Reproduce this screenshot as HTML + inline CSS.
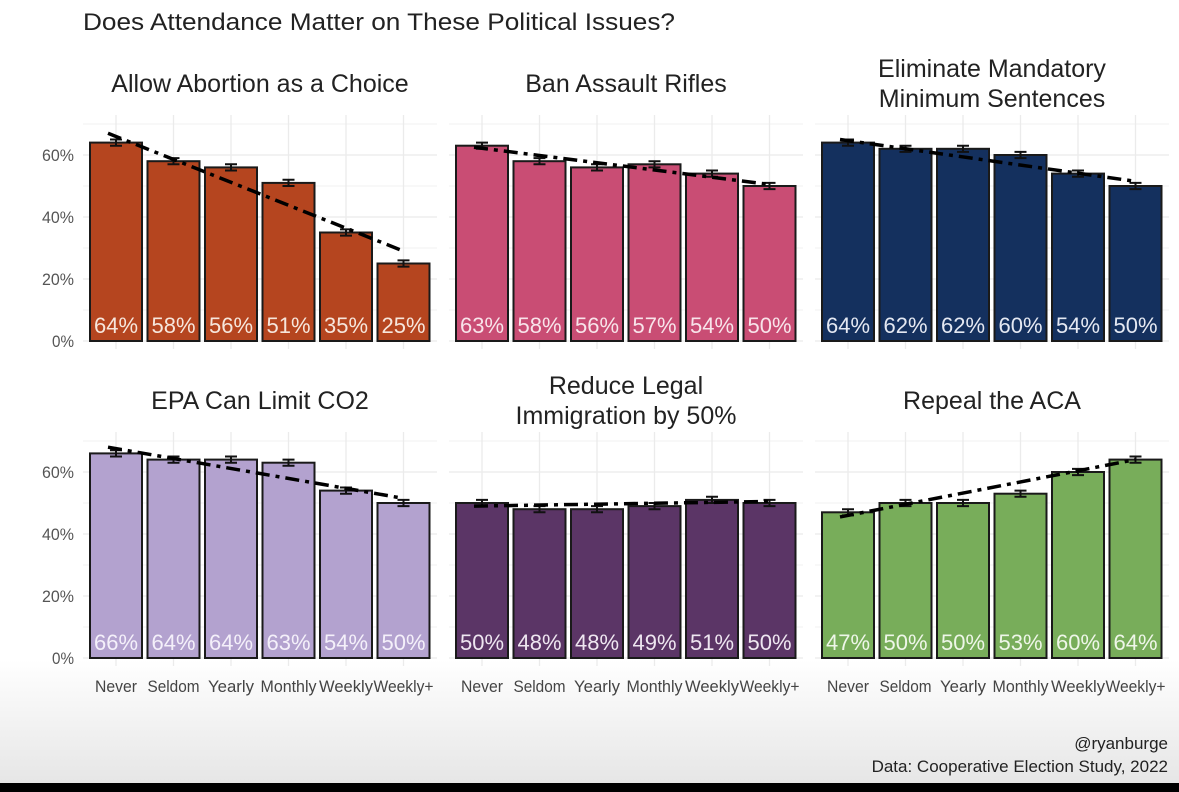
<!DOCTYPE html>
<html><head><meta charset="utf-8"><style>
html,body{margin:0;padding:0;}
body{width:1179px;height:792px;overflow:hidden;background:linear-gradient(#fff 0px,#fff 660px,#e6e6e6 783px);}
svg{display:block;font-family:"Liberation Sans Narrow","Liberation Sans",sans-serif;}
</style></head><body>
<svg id="chart" width="1179" height="792">
<rect x="0" y="783" width="1179" height="9" fill="#000"/>
<text x="83" y="30" font-size="24" fill="#222" textLength="592" lengthAdjust="spacingAndGlyphs">Does Attendance Matter on These Political Issues?</text>
<text x="1168" y="749" font-size="17" fill="#222" text-anchor="end">@ryanburge</text>
<text x="1168" y="772" font-size="17" fill="#222" text-anchor="end">Data: Cooperative Election Study, 2022</text>
</svg>
<script>
const categories=["Never","Seldom","Yearly","Monthly","Weekly","Weekly+"];
const titles=[["Allow Abortion as a Choice"],["Ban Assault Rifles"],["Eliminate Mandatory","Minimum Sentences"],["EPA Can Limit CO2"],["Reduce Legal","Immigration by 50%"],["Repeal the ACA"]];
const abortion=[64,58,56,51,35,25];
const rifles=[63,58,56,57,54,50];
const sentences=[64,62,62,60,54,50];
const epa=[66,64,64,63,54,50];
const immigration=[50,48,48,49,51,50];
const aca=[47,50,50,53,60,64];
const trendStart=[67,62.5,65,68,49,45.5];
const trendEnd=[29,50.5,51.5,51.5,50.5,64];
const yTicks=[0,20,40,60];
const colors=["#b5451f","#c94d74","#14305e","#b3a2cf","#5b3566","#78ad5a"];
const labelColors=["#f6e6dc","#f8e4ea","#e4e8f2","#f4f0fa","#eee6f0","#eef6e8"];
const series=[abortion,rifles,sentences,epa,immigration,aca];
const catWidths={"Never":42,"Seldom":52,"Yearly":46,"Monthly":56,"Weekly":54,"Weekly+":60};
const NS="http://www.w3.org/2000/svg";
const svg=document.getElementById('chart');
function mk(tag,attrs,parent){const e=document.createElementNS(NS,tag);for(const k in attrs)e.setAttribute(k,attrs[k]);(parent||svg).appendChild(e);return e;}
const pxPer=62/20;
for(let p=0;p<6;p++){
  const col=p%3,row=Math.floor(p/3);
  const ox=col*366, y0=row?658:341, top=y0-226;
  const xPos=i=>116+ox+i*57.5;
  const yPos=v=>y0-v*pxPer;
  const g=mk('g',{});
  
  
  for(let v=0;v<=70;v+=10){
    const l=mk('line',{x1:83+ox,x2:437+ox,y1:yPos(v),y2:yPos(v),stroke:'#ebebeb','stroke-width':v%20==0?1.3:0.8},g);
    
    
  }
  categories.forEach((c,i)=>{
    const l=mk('line',{x1:xPos(i),x2:xPos(i),y1:top,y2:y0+8,stroke:'#ebebeb','stroke-width':1.3},g);
    
    
  });
  const tl=titles[p];
  tl.forEach((t,j)=>{
    const cy=row?400:83;
    const y=cy+9+(j-(tl.length-1)/2)*30;
    const tx=mk('text',{x:260+ox,y:y,'font-size':25,fill:'#222','text-anchor':'middle'},g);
    tx.textContent=t;
    
    
  });
  if(col===0){
    yTicks.forEach(v=>{
      const t=mk('text',{x:74,y:yPos(v)+6,'font-size':17,fill:'#555','text-anchor':'end',textLength:(v===0?22:32),lengthAdjust:'spacingAndGlyphs'},g);
      t.textContent=v+'%';
      
      
    });
  }
  series[p].forEach((v,i)=>{
    const b=mk('rect',{x:xPos(i)-26,y:yPos(v),width:52,height:v*pxPer,fill:colors[p],stroke:'#1a1a1a','stroke-width':2},g);
    
    
    const e=mk('path',{d:`M${xPos(i)-6},${yPos(v+1)}h12M${xPos(i)},${yPos(v+1)}V${yPos(v-1)}M${xPos(i)-6},${yPos(v-1)}h12`,stroke:'#111','stroke-width':2,fill:'none'},g);
    
    
    const t=mk('text',{x:xPos(i),y:y0-8,'font-size':22,fill:labelColors[p],'text-anchor':'middle',textLength:44,lengthAdjust:'spacingAndGlyphs'},g);
    t.textContent=v+'%';
    
    
    if(row===1){
      const xl=mk('text',{x:xPos(i),y:692,'font-size':17,fill:'#444','text-anchor':'middle',textLength:catWidths[categories[i]],lengthAdjust:'spacingAndGlyphs'},g);
      xl.textContent=categories[i];
      
      
    }
  });
  const tr=mk('line',{x1:xPos(0)-8,y1:yPos(trendStart[p]),x2:xPos(5),y2:yPos(trendEnd[p]),stroke:'#000','stroke-width':3.5,'stroke-dasharray':'14 6 4 6'},g);
  
  
}
</script>
</body></html>
